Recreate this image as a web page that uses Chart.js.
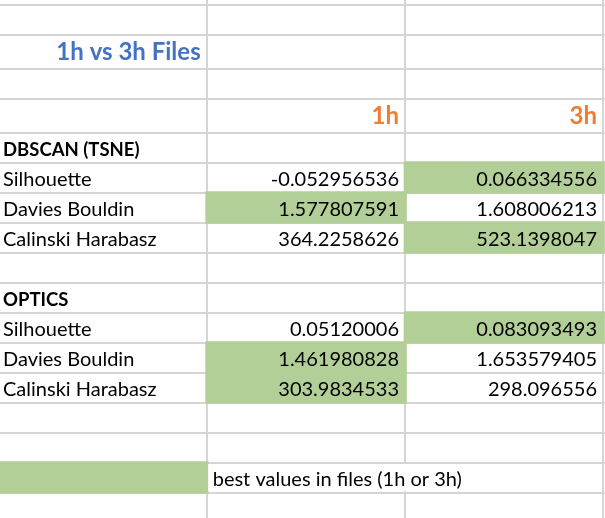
<!DOCTYPE html>
<html>
<head>
<meta charset="utf-8">
<script src="https://cdn.jsdelivr.net/npm/chart.js@4.4.1/dist/chart.umd.min.js"></script>
<style>
  html, body { margin: 0; padding: 0; background: #ffffff; }
  canvas { display: block; }
</style>
</head>
<body>
<canvas id="c" width="605" height="518"></canvas>
<script>
// ---------- data ----------
const title = '1h vs 3h Files';
const files = ['1h', '3h'];
const methods = ['DBSCAN (TSNE)', 'OPTICS'];
const metrics = ['Silhouette', 'Davies Bouldin', 'Calinski Harabasz'];
const metricBetter = ['max', 'min', 'max'];
const dbscan1h = [-0.052956536, 1.577807591, 364.2258626];
const dbscan3h = [0.066334556, 1.608006213, 523.1398047];
const optics1h = [0.05120006, 1.461980828, 303.9834533];
const optics3h = [0.083093493, 1.653579405, 298.096556];
const legendText = 'best values in files (1h or 3h)';

// ---------- layout / style ----------
const colEdges = [0, 206.7, 405, 603];
const firstLineY = 4.5;
const canvasW = 605, canvasH = 518;
const gridColor = '#d5d5d5';
const fillGreen = '#b2cf98';
const titleBlue = '#4472c4';
const headerOrange = '#ed7d31';
const FONT = 'Lato, "Open Sans", sans-serif';

// ---------- build sheet rows from the data ----------
const seriesByMethod = [[dbscan1h, dbscan3h], [optics1h, optics3h]];
const sheet = [];
function addRow(h, cells) { sheet.push({ h: h, cells: cells || [] }); }
function bestIndex(k, vals) {
  return metricBetter[k] === 'max'
    ? (vals[0] >= vals[1] ? 0 : 1)
    : (vals[0] <= vals[1] ? 0 : 1);
}
addRow(30);
addRow(30);
addRow(34, [{ col: 0, text: title, kind: 'title', align: 'right' }]);
addRow(30);
addRow(34, files.map((f, i) => ({ col: i + 1, text: f, kind: 'header', align: 'right' })));
methods.forEach((m, mi) => {
  addRow(30, [{ col: 0, text: m, kind: 'bold' }]);
  metrics.forEach((met, k) => {
    const vals = [seriesByMethod[mi][0][k], seriesByMethod[mi][1][k]];
    const b = bestIndex(k, vals);
    addRow(30, [{ col: 0, text: met }].concat(
      vals.map((v, i) => ({ col: i + 1, text: String(v), align: 'right', fill: i === b }))
    ));
  });
  addRow(30);
});
addRow(30);
addRow(30, [{ col: 0, text: '', fill: true }, { col: 1, text: legendText, overflow: 2 }]);
addRow(30);

// row boundaries
const rowTops = [];
let yy = firstLineY - sheet[0].h;
sheet.forEach(r => { rowTops.push(yy); yy += r.h; });
const rowLines = sheet.map((r, i) => rowTops[i] + r.h).filter(v => v > 0 && v < canvasH);

// filled cells -> floating horizontal bars
const fills = [];
sheet.forEach((r, ri) => r.cells.forEach(c => {
  if (c.fill) {
    fills.push({ x: [colEdges[c.col] - 1, colEdges[c.col + 1] + 1.5], y: rowTops[ri] + r.h / 2 });
  }
}));

// ---------- text plugin ----------
const cellText = {
  id: 'cellText',
  afterDatasetsDraw(chart) {
    const ctx = chart.ctx;
    const xs = chart.scales.x, ys = chart.scales.y;
    ctx.save();
    sheet.forEach((r, ri) => {
      const bottom = ys.getPixelForValue(rowTops[ri] + r.h);
      const top = ys.getPixelForValue(rowTops[ri]);
      r.cells.forEach(c => {
        if (!c.text) return;
        let font = '20px ' + FONT, color = '#000000';
        if (c.kind === 'title') { font = 'bold 24px ' + FONT; color = titleBlue; }
        else if (c.kind === 'header') { font = 'bold 24px ' + FONT; color = headerOrange; }
        else if (c.kind === 'bold') { font = 'bold 18.5px ' + FONT; }
        if (c.overflow) {
          const x0 = xs.getPixelForValue(colEdges[c.col]) + 1.5;
          const x1 = xs.getPixelForValue(colEdges[c.col + c.overflow]) - 1.5;
          ctx.fillStyle = '#ffffff';
          ctx.fillRect(x0, top + 1.5, x1 - x0, bottom - top - 3);
        }
        ctx.font = font;
        ctx.fillStyle = color;
        ctx.textBaseline = 'alphabetic';
        const baseY = bottom - (7 + (r.h - 30) * 0.4);
        if (c.align === 'right') {
          ctx.textAlign = 'right';
          ctx.fillText(c.text, xs.getPixelForValue(colEdges[c.col + 1]) - 6, baseY);
        } else {
          ctx.textAlign = 'left';
          ctx.fillText(c.text, xs.getPixelForValue(colEdges[c.col]) + (c.col === 0 ? 3 : 6), baseY);
        }
      });
    });
    ctx.restore();
  }
};

// ---------- chart ----------
const gridOpts = { offset: false, drawTicks: false, color: gridColor, lineWidth: 2 };
new Chart(document.getElementById('c'), {
  type: 'bar',
  data: {
    datasets: [{
      data: fills,
      backgroundColor: fillGreen,
      borderWidth: 0,
      barThickness: 32
    }]
  },
  options: {
    indexAxis: 'y',
    responsive: false,
    animation: false,
    devicePixelRatio: 1,
    layout: { padding: 0 },
    plugins: { legend: { display: false }, tooltip: { enabled: false }, title: { display: false } },
    scales: {
      x: {
        type: 'linear', min: 0, max: canvasW, offset: false,
        ticks: { display: false }, grid: gridOpts, border: { display: false },
        afterBuildTicks: s => { s.ticks = colEdges.slice(1).map(v => ({ value: v })); }
      },
      y: {
        type: 'linear', min: 0, max: canvasH, reverse: true, offset: false,
        ticks: { display: false }, grid: gridOpts, border: { display: false },
        afterBuildTicks: s => { s.ticks = rowLines.map(v => ({ value: v })); }
      }
    }
  },
  plugins: [cellText]
});
</script>
</body>
</html>
